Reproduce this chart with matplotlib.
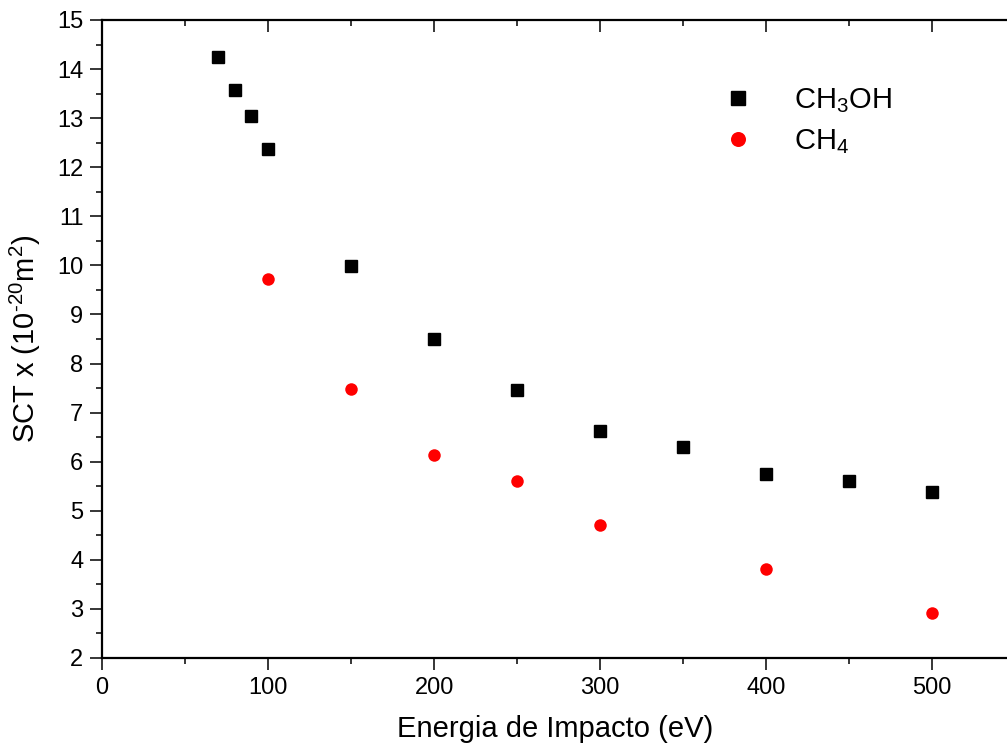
import matplotlib.pyplot as plt
from matplotlib.ticker import MultipleLocator

plt.rcParams['font.family'] = ['Liberation Sans', 'DejaVu Sans']
plt.rcParams['mathtext.default'] = 'regular'

# dados
energia_ch3oh = [70, 80, 90, 100, 150, 200, 250, 300, 350, 400, 450, 500]
sct_ch3oh = [14.25, 13.57, 13.05, 12.37, 9.99, 8.50, 7.46, 6.62, 6.30, 5.75, 5.60, 5.38]
energia_ch4 = [100, 150, 200, 250, 300, 400, 500]
sct_ch4 = [9.73, 7.48, 6.14, 5.60, 4.71, 3.81, 2.91]

fig = plt.figure(figsize=(10.07, 7.49), dpi=100)
ax = fig.add_axes([0.1013, 0.1215, 0.9, 0.8518])

ax.plot(energia_ch3oh, sct_ch3oh, 's', color='black', markersize=8, label='CH$_3$OH')
ax.plot(energia_ch4, sct_ch4, 'o', color='red', markersize=9, markeredgewidth=0, label='CH$_4$')

ax.set_xlim(0, 545.8)
ax.set_ylim(2, 15)
ax.xaxis.set_major_locator(MultipleLocator(100))
ax.xaxis.set_minor_locator(MultipleLocator(50))
ax.yaxis.set_major_locator(MultipleLocator(1))
ax.yaxis.set_minor_locator(MultipleLocator(0.5))

ax.tick_params(which='both', direction='out', width=1.1, labelsize=17, pad=5)
ax.tick_params(which='major', length=8.5)
ax.tick_params(which='minor', length=4.3)
ax.tick_params(which='both', top=True, right=True)
for t in ax.xaxis.get_major_ticks() + ax.xaxis.get_minor_ticks():
    t.tick2line.set_marker(3)  # para dentro no topo
for t in ax.yaxis.get_major_ticks() + ax.yaxis.get_minor_ticks():
    t.tick2line.set_marker(1)
for s in ax.spines.values():
    s.set_linewidth(1.6)

ax.set_xlabel('Energia de Impacto (eV)', fontsize=21, labelpad=12)
ax.set_ylabel('SCT x (10$^{\u2010 20}$m$^{2}$)', fontsize=21, labelpad=10)

ax.legend(loc='upper left', bbox_to_anchor=(0.641, 0.937), frameon=False,
          fontsize=21, markerscale=1.2, handletextpad=0.9, labelspacing=0.42)

fig.savefig('out.png', dpi=100)
